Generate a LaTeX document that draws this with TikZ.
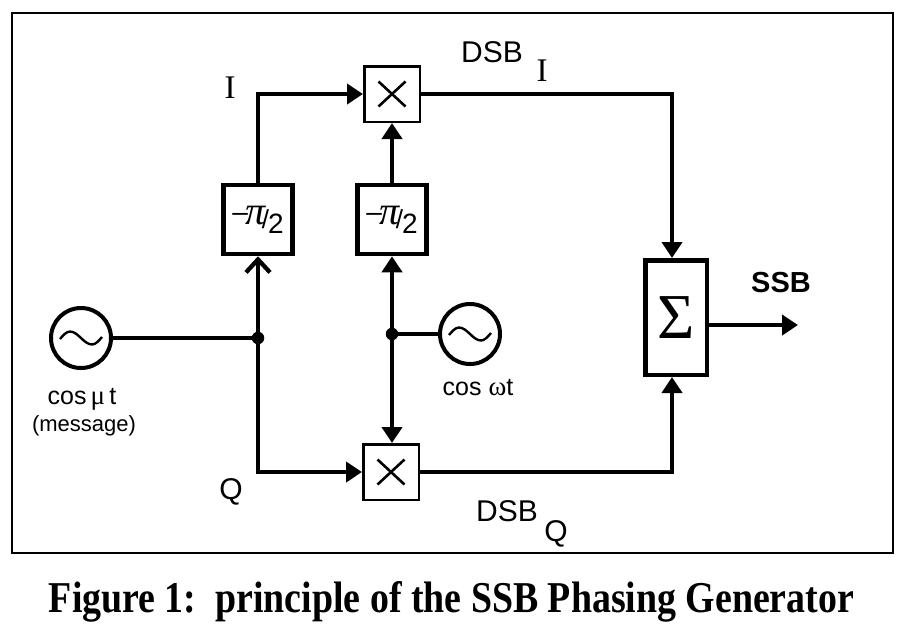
\documentclass[tikz,border=0pt]{standalone}
\usepackage{fontspec}
\usepackage{graphicx}
\setmainfont{Liberation Serif}
\setsansfont{Liberation Sans}
\usetikzlibrary{arrows.meta,calc}
\tikzset{
  wire/.style={line width=4.3pt},
  arr/.style={-{Triangle[length=16pt,width=20pt]}},
  barb/.style={-{Straight Barb[length=13pt,width=24pt]}},
  shifter/.style={draw, line width=4.5pt, minimum width=69pt, minimum height=69pt, inner sep=0pt},
  mixer/.style={draw, line width=2.5pt, minimum width=55.5pt, minimum height=55.5pt, inner sep=0pt,
    path picture={\draw[line width=2.6pt]
      ([shift={(-13.5,-12.5)}]path picture bounding box.center) -- ([shift={(13.5,12.5)}]path picture bounding box.center)
      ([shift={(-13.5,12.5)}]path picture bounding box.center) -- ([shift={(13.5,-12.5)}]path picture bounding box.center);}},
  osc/.style={circle, draw, line width=4pt, minimum size=60pt, inner sep=0pt,
    path picture={\draw[line width=2.4pt]
      ([shift={(-21,1)}]path picture bounding box.center) sin ([shift={(-11,-6.5)}]path picture bounding box.center)
      cos ([shift={(0,0)}]path picture bounding box.center) sin ([shift={(11,6.5)}]path picture bounding box.center)
      cos ([shift={(21,-1)}]path picture bounding box.center);}},
  summer/.style={draw, line width=4.5pt, minimum width=61.5pt, minimum height=114.5pt, inner sep=0pt},
  jdot/.style={circle, fill, minimum size=12.5pt, inner sep=0pt},
  sanslbl/.style={font=\sffamily\fontsize{30}{36}\selectfont, inner sep=0pt},
  seriflbl/.style={font=\rmfamily\fontsize{33}{38}\selectfont, inner sep=0pt},
  smalllbl/.style={font=\sffamily\fontsize{25}{30}\selectfont, inner sep=0pt},
  tinylbl/.style={font=\sffamily\fontsize{22}{26}\selectfont, inner sep=0pt},
}
\newcommand{\phaselabel}{{\sffamily\fontsize{28}{28}\selectfont\raisebox{3pt}{–}}\kern-2pt{\rmfamily\itshape\fontsize{40}{40}\selectfont π}\kern-4pt\raisebox{-4pt}{\sffamily\fontsize{26}{26}\selectfont/}\kern-1pt\raisebox{-9pt}{\sffamily\fontsize{28}{28}\selectfont 2}}
\begin{document}
\begin{tikzpicture}[x=1pt,y=-1pt]
\useasboundingbox (0,0) rectangle (909,633);
\draw[line width=2pt] (12,13) rectangle (893,553);

% nodes
\node[osc] (osc1) at (81,338) {};
\node[osc] (osc2) at (470,334) {};
\node[jdot] (d1) at (258,338) {};
\node[jdot] (d2) at (392,334) {};
\node[shifter] (ps1) at (258,219.5) {\phaselabel};
\node[shifter] (ps2) at (392,219.5) {\phaselabel};
\node[mixer] (m1) at (392,94) {};
\node[mixer] (m2) at (391,472) {};
\node[summer] (sum) at (676,317.5) {\fontsize{64}{64}\selectfont Σ};
\coordinate (out) at (798,325);

% connectors
\draw[wire] (osc1) -- (d1);
\draw[wire,barb] (d1) -- (ps1);
\draw[wire,arr] (ps1) |- (m1);
\draw[wire,arr] (d1) |- (m2);
\draw[wire] (osc2) -- (d2);
\draw[wire,arr] (d2) -- (ps2);
\draw[wire,arr] (d2) -- (m2.north -| d2);
\draw[wire,arr] (ps2) -- (m1);
\draw[wire,arr] (m1) -| ([xshift=-4pt]sum.north);
\draw[wire,arr] (m2) -| ([xshift=-4pt]sum.south);
\draw[wire,arr] (sum.east |- out) -- (out);

% labels
\node[seriflbl, anchor=base] (lI) at (230,98) {I};
\node[sanslbl, anchor=base] (lQ) at (231,499) {Q};
\node[smalllbl, anchor=base] (lcm) at (82,404) {cos\,{\rmfamily\fontsize{27}{30}\selectfont μ}\,t};
\node[tinylbl, anchor=base] (lmsg) at (84,431) {(message)};
\node[smalllbl, anchor=base] (lcw) at (478,395) {cos {\rmfamily\fontsize{27}{30}\selectfont ω}t};
\node[sanslbl, anchor=base] (ldi) at (492,62) {DSB};
\node[seriflbl, anchor=base] (ldis) at (542,81) {I};
\node[sanslbl, anchor=base] (ldq) at (507,521) {DSB};
\node[sanslbl, anchor=base] (ldqs) at (556,541) {Q};
\node[sanslbl, anchor=base, font=\sffamily\bfseries\fontsize{29}{34}\selectfont] (lssb) at (781,292) {SSB};
\node[anchor=base, inner sep=0pt] (cap) at (451.5,612) {\resizebox{805pt}{31pt}{\bfseries Figure 1:\ \ principle of the SSB Phasing Generator}};
\end{tikzpicture}
\end{document}
